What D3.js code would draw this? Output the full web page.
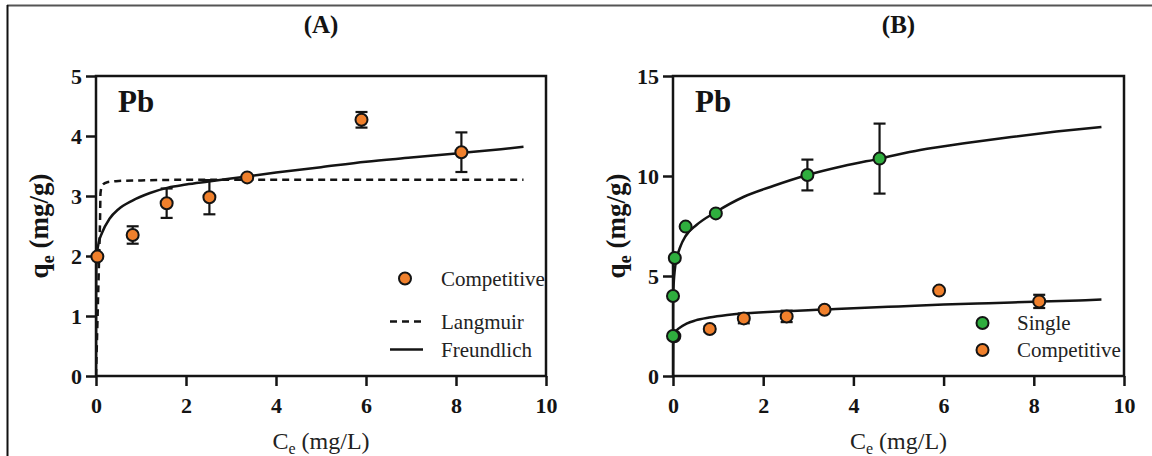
<!DOCTYPE html>
<html>
<head>
<meta charset="utf-8">
<script src="https://cdn.jsdelivr.net/npm/d3@7/dist/d3.min.js"></script>
<style>
  html, body { margin: 0; padding: 0; background: #fff; }
  svg { display: block; }
</style>
</head>
<body>
<svg id="chart" width="1152" height="456" font-family="Liberation Serif"></svg>
<script>
// ---------- Data ----------
// Competitive Pb (both panels)
const compC   = [0.03, 0.815, 1.57, 2.52, 3.36, 5.9, 8.12];
const compQ   = [1.99, 2.35, 2.88, 2.98, 3.31, 4.27, 3.73];
const compErr = [0.03, 0.145, 0.245, 0.285, 0.04, 0.13, 0.33];

// Single Pb (panel B)
const singleC   = [0.0, 0.0, 0.04, 0.28, 0.95, 2.98, 4.58];
const singleQ   = [2.0, 4.0, 5.9, 7.47, 8.13, 10.05, 10.87];
const singleErr = [0, 0, 0, 0, 0, 0.77, 1.75];

// Fitted curves
const freundCompC = [0, 0.003, 0.01, 0.03, 0.06, 0.13, 0.3, 0.5, 0.8, 1.2, 1.6, 2.0, 2.5, 3.0, 3.4, 4, 5, 6, 7, 8, 9, 9.5];
const freundCompQ = [0, 1.5, 1.85, 2.08, 2.22, 2.38, 2.62, 2.78, 2.92, 3.05, 3.14, 3.19, 3.24, 3.29, 3.33, 3.39, 3.48, 3.57, 3.64, 3.71, 3.78, 3.82];

const langCompC = [0, 0.07, 0.09, 0.1, 0.14, 0.25, 0.5, 1, 2, 4, 6, 8, 9.5];
const langCompQ = [0, 2.0, 2.6, 3.05, 3.18, 3.23, 3.25, 3.26, 3.27, 3.27, 3.27, 3.27, 3.27];

const freundSingleC = [0, 0.003, 0.01, 0.04, 0.08, 0.16, 0.28, 0.52, 0.95, 1.56, 2.22, 2.98, 3.78, 4.58, 5.48, 6.5, 7.5, 8.5, 9.5];
const freundSingleQ = [0, 3.2, 4.3, 5.3, 5.85, 6.45, 7.0, 7.55, 8.2, 8.95, 9.5, 10.05, 10.5, 10.87, 11.3, 11.65, 11.95, 12.22, 12.45];

// Axis ticks
const xTicks  = [0, 2, 4, 6, 8, 10];
const yTicksA = [0, 1, 2, 3, 4, 5];
const yTicksB = [0, 5, 10, 15];

const ORANGE = "#F0802C";
const GREEN  = "#2FAE3E";
const INK    = "#141414";
const FONT   = "Liberation Serif";

const svg = d3.select("#chart");

// outer frame (top + left edges visible)
svg.append("line").attr("x1", 7).attr("x2", 1152).attr("y1", 5.5).attr("y2", 5.5)
  .attr("stroke", "#555").attr("stroke-width", 2);
svg.append("line").attr("x1", 7.5).attr("x2", 7.5).attr("y1", 5).attr("y2", 456)
  .attr("stroke", "#111").attr("stroke-width", 2);

function zip(a, b) { return a.map((v, i) => [v, b[i]]); }
function txt(sel) { return sel.append("text").attr("font-family", FONT); }

function panel(opts) {
  const g = svg.append("g");
  const x = d3.scaleLinear().domain([0, 10]).range([opts.x0, opts.x1]);
  const y = d3.scaleLinear().domain([0, opts.ymax]).range([376, 76]);

  // title
  txt(g).attr("x", (opts.x0 + opts.x1) / 2).attr("y", 33)
    .attr("text-anchor", "middle").attr("font-weight", "bold").attr("font-size", 25)
    .attr("fill", INK).text(opts.title);

  // axes
  const xAxis = d3.axisBottom(x).tickValues(xTicks).tickSize(10).tickPadding(6).tickFormat(d3.format("d"));
  const yAxis = d3.axisLeft(y).tickValues(opts.yTicks).tickSize(10).tickPadding(4).tickFormat(d3.format("d"));
  const gx = g.append("g").attr("transform", "translate(0,376)").call(xAxis);
  const gy = g.append("g").attr("transform", `translate(${opts.x0},0)`).call(yAxis);
  [gx, gy].forEach(a => {
    a.attr("font-family", FONT);
    a.select(".domain").remove();
    a.selectAll(".tick line").attr("stroke", INK).attr("stroke-width", 2.5);
    a.selectAll(".tick text").attr("fill", INK).attr("font-size", 22).attr("font-weight", "bold")
      .attr("font-family", FONT);
  });
  gx.selectAll(".tick text").attr("dy", "0.95em");
  gy.selectAll(".tick text").attr("dy", "0.34em");

  // frame
  g.append("rect").attr("x", opts.x0).attr("y", 76).attr("width", opts.x1 - opts.x0).attr("height", 300)
    .attr("fill", "none").attr("stroke", INK).attr("stroke-width", 2.5);

  // axis labels
  const yl = txt(g).attr("transform", `translate(${opts.x0 - 48},226) rotate(-90)`)
    .attr("text-anchor", "middle").attr("font-weight", "bold").attr("font-size", 27).attr("fill", INK);
  yl.append("tspan").text("q");
  yl.append("tspan").attr("font-size", 18).attr("dy", 6).text("e");
  yl.append("tspan").attr("dy", -6).text(" (mg/g)");

  const xl = txt(g).attr("x", (opts.x0 + opts.x1) / 2).attr("y", 449)
    .attr("text-anchor", "middle").attr("font-size", 24).attr("fill", "#222");
  xl.append("tspan").text("C");
  xl.append("tspan").attr("font-size", 16).attr("dy", 5).text("e");
  xl.append("tspan").attr("dy", -5).text(" (mg/L)");

  // Pb label
  txt(g).attr("x", opts.x0 + 22).attr("y", 112).attr("font-weight", "bold")
    .attr("font-size", 31).attr("fill", INK).text("Pb");

  const line = d3.line().x(d => x(d[0])).y(d => y(d[1])).curve(d3.curveMonotoneX);
  const clipId = "clip" + opts.title.replace(/\W/g, "");
  g.append("clipPath").attr("id", clipId).append("rect")
    .attr("x", opts.x0).attr("y", 76).attr("width", opts.x1 - opts.x0).attr("height", 300);
  const lines = g.append("g").attr("clip-path", `url(#${clipId})`);
  opts.curves.forEach(c => {
    lines.append("path").datum(zip(c.C, c.Q)).attr("d", line).attr("fill", "none")
      .attr("stroke", INK).attr("stroke-width", 2.5)
      .attr("stroke-dasharray", c.dash ? "7,5" : null);
  });

  // series
  opts.series.forEach(s => {
    const data = s.C.map((c, i) => ({ c, q: s.Q[i], e: s.E ? s.E[i] : 0 }));
    const eb = g.append("g").attr("stroke", INK).attr("stroke-width", 2.2);
    data.filter(d => d.e > 0).forEach(d => {
      eb.append("line").attr("x1", x(d.c)).attr("x2", x(d.c)).attr("y1", y(d.q + d.e)).attr("y2", y(d.q - d.e));
      eb.append("line").attr("x1", x(d.c) - 6).attr("x2", x(d.c) + 6).attr("y1", y(d.q + d.e)).attr("y2", y(d.q + d.e));
      eb.append("line").attr("x1", x(d.c) - 6).attr("x2", x(d.c) + 6).attr("y1", y(d.q - d.e)).attr("y2", y(d.q - d.e));
    });
    g.append("g").selectAll("circle").data(data).join("circle")
      .attr("cx", d => x(d.c)).attr("cy", d => y(d.q)).attr("r", 6)
      .attr("fill", s.color).attr("stroke", INK).attr("stroke-width", 2);
  });

  // legend
  opts.legend.forEach(l => {
    if (l.type === "circle") {
      g.append("circle").attr("cx", l.sx).attr("cy", l.ly).attr("r", 6)
        .attr("fill", l.color).attr("stroke", INK).attr("stroke-width", 2);
    } else {
      g.append("line").attr("x1", l.sx - 15).attr("x2", l.sx + 18).attr("y1", l.ly).attr("y2", l.ly)
        .attr("stroke", INK).attr("stroke-width", 2.5).attr("stroke-dasharray", l.type === "dash" ? "7,5" : null);
    }
    txt(g).attr("x", l.tx).attr("y", l.ly + 7).attr("font-size", 21).attr("fill", "#222").text(l.label);
  });
}

panel({
  title: "(A)", x0: 96, x1: 546, ymax: 5, yTicks: yTicksA,
  curves: [
    { C: langCompC, Q: langCompQ, dash: true },
    { C: freundCompC, Q: freundCompQ, dash: false }
  ],
  series: [ { C: compC, Q: compQ, E: compErr, color: ORANGE } ],
  legend: [
    { type: "circle", color: ORANGE, sx: 405, tx: 441, ly: 278.5, label: "Competitive" },
    { type: "dash", sx: 405, tx: 441, ly: 321.5, label: "Langmuir" },
    { type: "solid", sx: 405, tx: 441, ly: 349.5, label: "Freundlich" }
  ]
});

panel({
  title: "(B)", x0: 673, x1: 1124, ymax: 15, yTicks: yTicksB,
  curves: [
    { C: freundSingleC, Q: freundSingleQ, dash: false },
    { C: freundCompC, Q: freundCompQ, dash: false }
  ],
  series: [
    { C: compC, Q: compQ, E: compErr, color: ORANGE },
    { C: singleC, Q: singleQ, E: singleErr, color: GREEN }
  ],
  legend: [
    { type: "circle", color: GREEN, sx: 982.5, tx: 1017, ly: 323, label: "Single" },
    { type: "circle", color: ORANGE, sx: 982.5, tx: 1017, ly: 350, label: "Competitive" }
  ]
});
</script>
</body>
</html>
